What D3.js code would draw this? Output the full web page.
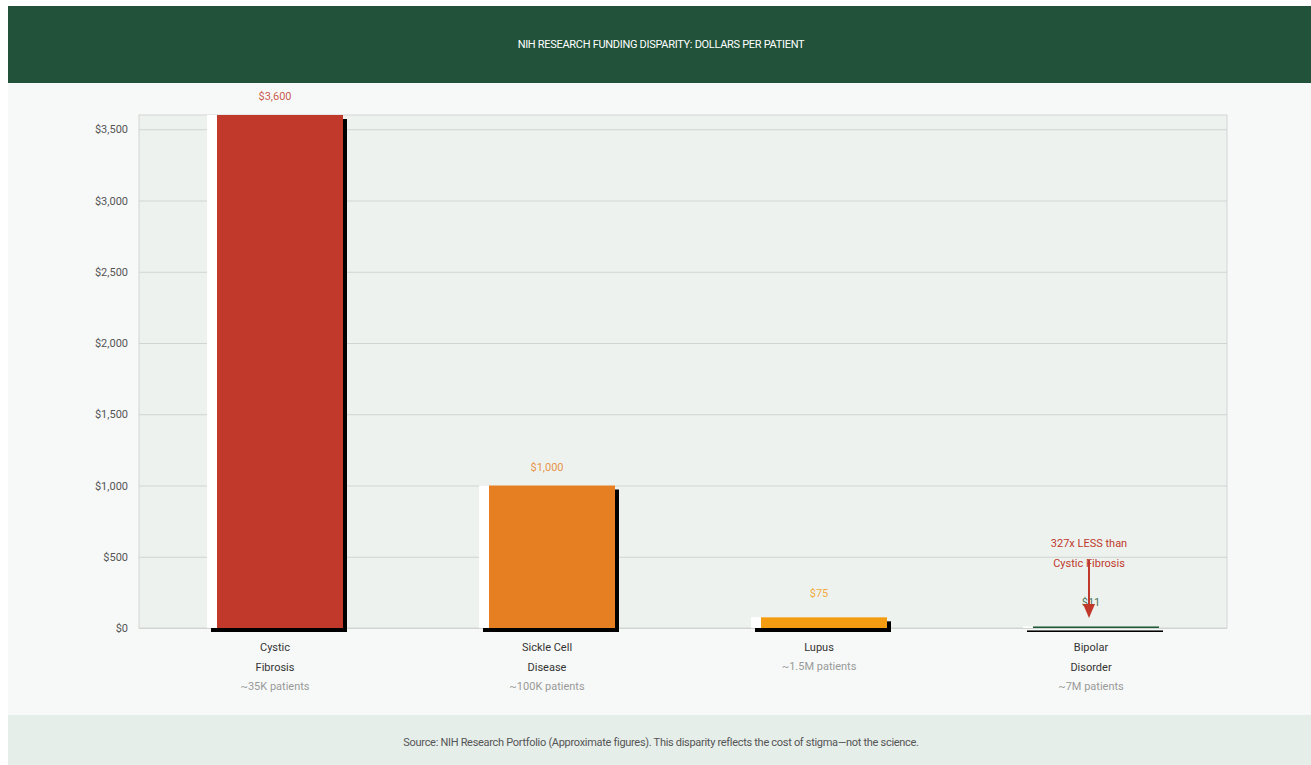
<!DOCTYPE html>
<html>
<head>
<meta charset="utf-8">
<script src="https://cdn.jsdelivr.net/npm/d3@7"></script>
<style>
  html, body { margin: 0; padding: 0; background: #ffffff; overflow: hidden; }
  svg { display: block; font-family: Roboto, "Liberation Sans", sans-serif; }
</style>
</head>
<body>
<script>
var diseases = ["Cystic Fibrosis", "Sickle Cell Disease", "Lupus", "Bipolar Disorder"];
var nameLines = [["Cystic", "Fibrosis"], ["Sickle Cell", "Disease"], ["Lupus"], ["Bipolar", "Disorder"]];
var patients = ["~35K patients", "~100K patients", "~1.5M patients", "~7M patients"];
var dollarsPerPatient = [3600, 1000, 75, 11];
var valueLabels = ["$3,600", "$1,000", "$75", "$11"];
var barColors = ["#c0392b", "#e67e22", "#f39c12", "#1f5c3a"];
var yTicks = [0, 500, 1000, 1500, 2000, 2500, 3000, 3500];

function main(){
	var w = 1311, h = 765;
	var left = 139, right = 1227, top = 115, bottom = 628;

	var svg = d3.select("body").append("svg")
		.attr("width", w)
		.attr("height", h);

	// page blocks
	svg.append("rect").attr("x", 8).attr("y", 83).attr("width", w - 8).attr("height", 632).attr("fill", "#f7f9f8");
	svg.append("rect").attr("x", 8).attr("y", 6).attr("width", w - 8).attr("height", 77).attr("fill", "#22533a");
	svg.append("rect").attr("x", 8).attr("y", 715).attr("width", w - 8).attr("height", 50).attr("fill", "#e6eeea");

	svg.append("text")
		.attr("x", 661).attr("y", 48)
		.attr("text-anchor", "middle")
		.attr("fill", "#ffffff")
		.attr("font-size", 11)
		.attr("letter-spacing", -0.3)
		.text("NIH RESEARCH FUNDING DISPARITY: DOLLARS PER PATIENT");

	svg.append("text")
		.attr("x", 661).attr("y", 746)
		.attr("text-anchor", "middle")
		.attr("fill", "#555")
		.attr("font-size", 11)
		.attr("letter-spacing", -0.3)
		.text("Source: NIH Research Portfolio (Approximate figures). This disparity reflects the cost of stigma\u2014not the science.");

	var x = d3.scaleBand()
		.domain(diseases)
		.range([left, right])
		.paddingInner(0.5)
		.paddingOuter(0.25);

	var y = d3.scaleLinear()
		.domain([0, 3600])
		.range([bottom, top]);

	// plot background
	svg.append("rect")
		.attr("x", left).attr("y", top)
		.attr("width", right - left).attr("height", bottom - top)
		.attr("fill", "#edf2ef")
		.attr("stroke", "#d2d6d4");

	var yAxis = d3.axisLeft(y)
		.tickValues(yTicks)
		.tickSize(-(right - left))
		.tickPadding(11)
		.tickFormat(function(d){ return "$" + d3.format(",")(d); });

	var gy = svg.append("g")
		.attr("transform", "translate(" + left + ",0)")
		.call(yAxis);
	gy.select(".domain").remove();
	gy.selectAll(".tick line").attr("stroke", "#d0d5d2");
	gy.selectAll(".tick text")
		.attr("fill", "#555")
		.attr("font-size", 11)
		.attr("font-family", "Roboto, sans-serif");

	var data = diseases.map(function(d, i){
		return {name: d, value: dollarsPerPatient[i], color: barColors[i], label: valueLabels[i], lines: nameLines[i], pts: patients[i]};
	});

	var bw = x.bandwidth();

	// shadow
	svg.selectAll(".shadow")
		.data(data).enter().append("rect")
		.attr("class", "shadow")
		.attr("x", function(d){ return x(d.name) + 4; })
		.attr("y", function(d){ return y(d.value) + 4; })
		.attr("width", bw)
		.attr("height", function(d){ return bottom - y(d.value); })
		.attr("fill", "#000");

	svg.selectAll(".hilite")
		.data(data).enter().append("rect")
		.attr("class", "hilite")
		.attr("x", function(d){ return x(d.name); })
		.attr("y", function(d){ return y(d.value); })
		.attr("width", bw)
		.attr("height", function(d){ return bottom - y(d.value); })
		.attr("fill", "#fff");

	svg.selectAll(".bar")
		.data(data).enter().append("rect")
		.attr("class", "bar")
		.attr("x", function(d){ return x(d.name) + 10; })
		.attr("y", function(d){ return y(d.value); })
		.attr("width", bw - 10)
		.attr("height", function(d){ return bottom - y(d.value); })
		.attr("fill", function(d){ return d.color; });

	svg.selectAll(".vlabel")
		.data(data).enter().append("text")
		.attr("class", "vlabel")
		.attr("x", function(d){ return x(d.name) + bw / 2; })
		.attr("y", function(d){ return y(d.value) - (d.value > 500 ? 15 : 20); })
		.attr("text-anchor", "middle")
		.attr("fill", function(d){ return d.color; })
		.attr("fill-opacity", 0.85)
		.attr("font-size", 11)
		.text(function(d){ return d.label; });

	// category labels
	var cat = svg.selectAll(".cat")
		.data(data).enter().append("g")
		.attr("class", "cat")
		.attr("transform", function(d){ return "translate(" + (x(d.name) + bw / 2) + ",0)"; });
	cat.each(function(d){
		var g = d3.select(this);
		d.lines.forEach(function(l, i){
			g.append("text")
				.attr("y", 651 + i * 19.5)
				.attr("text-anchor", "middle")
				.attr("fill", "#333")
				.attr("font-size", 11)
				.text(l);
		});
		g.append("text")
			.attr("y", d.lines.length > 1 ? 690 : 670)
			.attr("text-anchor", "middle")
			.attr("fill", "#999")
			.attr("font-size", 11)
			.text(d.pts);
	});

	// annotation
	var ax = x("Bipolar Disorder") + bw / 2 - 2;
	svg.append("text").attr("x", ax).attr("y", 547).attr("text-anchor", "middle")
		.attr("fill", "#c0392b").attr("font-size", 11).text("327x LESS than");
	svg.append("text").attr("x", ax).attr("y", 567).attr("text-anchor", "middle")
		.attr("fill", "#c0392b").attr("font-size", 11).text("Cystic Fibrosis");
	svg.append("line")
		.attr("x1", ax).attr("x2", ax)
		.attr("y1", 560).attr("y2", 606)
		.attr("stroke", "#c0392b").attr("stroke-width", 2);
	svg.append("path")
		.attr("d", "M" + (ax - 6) + ",604L" + (ax + 6) + ",604L" + ax + ",618Z")
		.attr("fill", "#c0392b");
}

main();
</script>
</body>
</html>
